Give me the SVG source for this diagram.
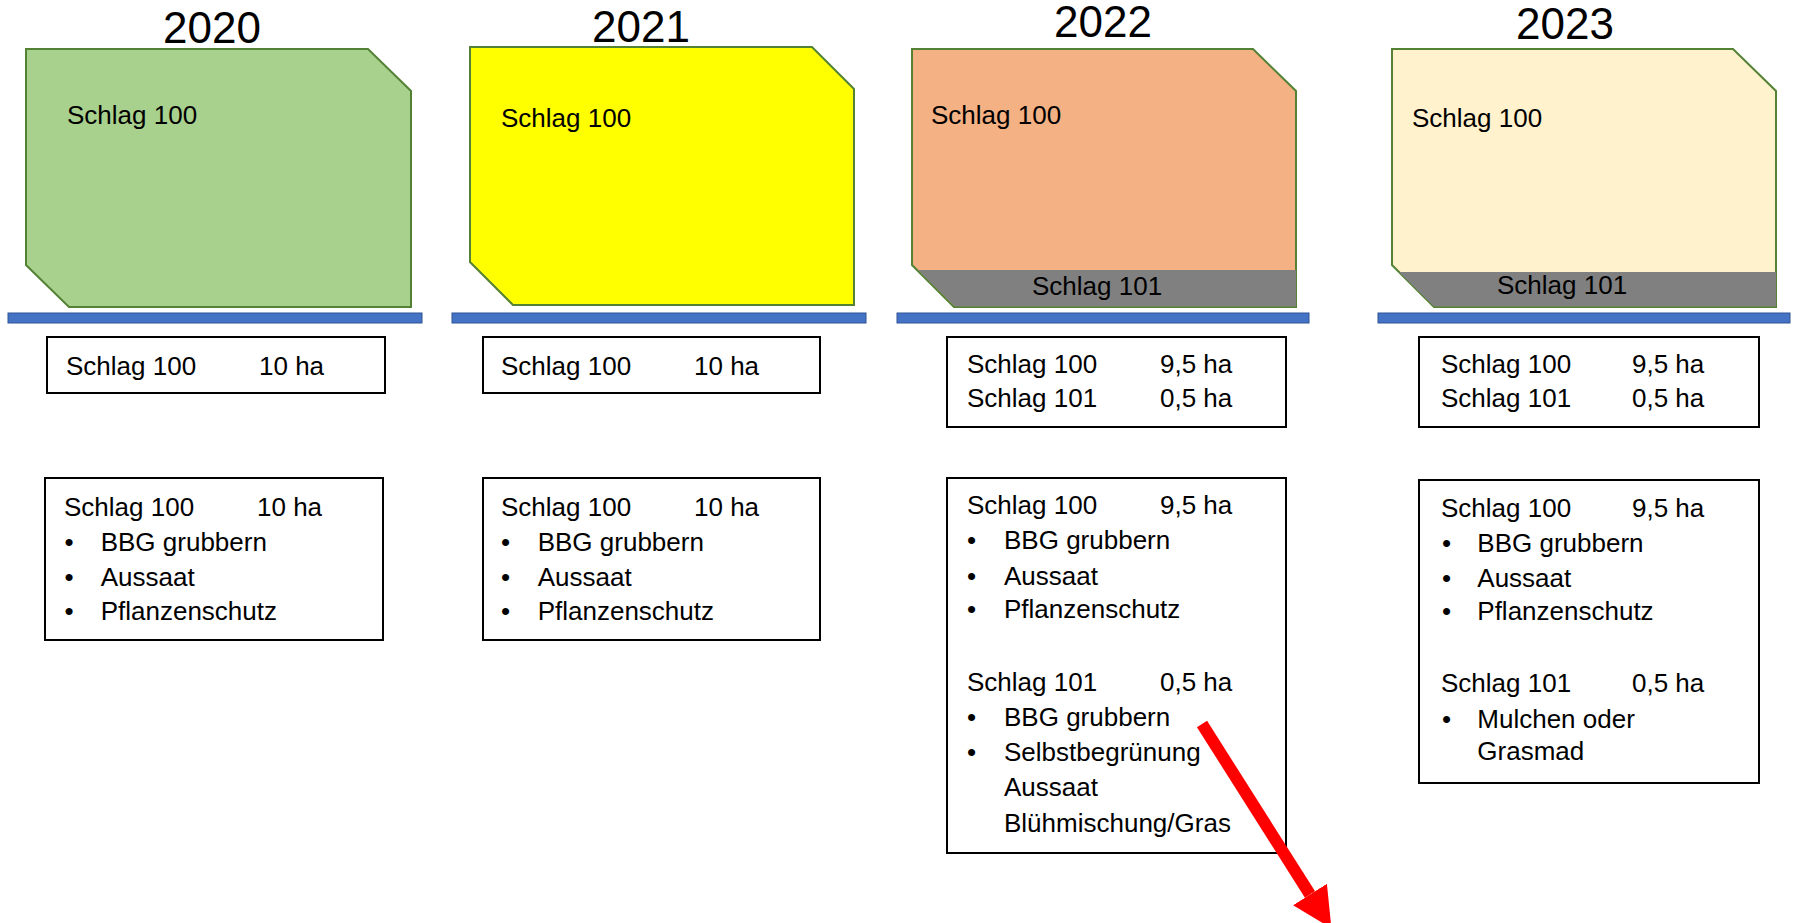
<svg xmlns="http://www.w3.org/2000/svg" width="1796" height="923" viewBox="0 0 1796 923">
<defs>
<style>
text{font-family:"Liberation Sans",Arial,sans-serif;fill:#000}
.yr{font-size:44px;text-anchor:middle}
.t{font-size:26px}
.field{stroke:#548235;stroke-width:2;stroke-linejoin:miter}
.strip{fill:#808080;stroke:none}
.bar{fill:#4472C4;stroke:#2F5597;stroke-width:1}
.box{fill:#fff;stroke:#000;stroke-width:2}
</style>
<marker id="ah" markerUnits="userSpaceOnUse" viewBox="0 0 40 40" refX="0" refY="20" markerWidth="40" markerHeight="40" orient="auto">
<path d="M0,0 L40,20 L0,40 z" fill="#FF0000"/>
</marker>
</defs>
<rect width="1796" height="923" fill="#fff"/>

<g id="y2020">
<text class="yr" x="212" y="43">2020</text>
<polygon class="field" fill="#A9D18E" points="26,49 368,49 411,91 411,307 69,307 26,265"/>
<text class="t" x="67" y="124">Schlag 100</text>
<rect class="bar" x="8" y="313" width="414" height="10"/>
</g>
<g id="y2020-area">
<rect class="box" x="47" y="337" width="338" height="56"/>
<text class="t" x="66" y="375">Schlag 100</text>
<text class="t" x="259" y="375">10 ha</text>
</g>
<g id="y2020-tasks">
<rect class="box" x="45" y="478" width="338" height="162"/>
<text class="t" x="64" y="515.5">Schlag 100</text>
<text class="t" x="257" y="515.5">10 ha</text>
<text class="t" x="64.5" y="550.5">•</text><text class="t" x="100.7" y="550.5">BBG grubbern</text>
<text class="t" x="64.5" y="585.5">•</text><text class="t" x="100.7" y="585.5">Aussaat</text>
<text class="t" x="64.5" y="620">•</text><text class="t" x="100.7" y="620">Pflanzenschutz</text>
</g>

<g id="y2021">
<text class="yr" x="641" y="42">2021</text>
<polygon class="field" fill="#FFFF00" points="470,47 812,47 854,89 854,305 513,305 470,262"/>
<text class="t" x="501" y="126.5">Schlag 100</text>
<rect class="bar" x="452" y="313" width="414" height="10"/>
</g>
<g id="y2021-area">
<rect class="box" x="483" y="337" width="337" height="56"/>
<text class="t" x="501" y="375">Schlag 100</text>
<text class="t" x="694" y="375">10 ha</text>
</g>
<g id="y2021-tasks">
<rect class="box" x="483" y="478" width="337" height="162"/>
<text class="t" x="501" y="515.5">Schlag 100</text>
<text class="t" x="694" y="515.5">10 ha</text>
<text class="t" x="501" y="550.5">•</text><text class="t" x="537.7" y="550.5">BBG grubbern</text>
<text class="t" x="501" y="585.5">•</text><text class="t" x="537.7" y="585.5">Aussaat</text>
<text class="t" x="501" y="620">•</text><text class="t" x="537.7" y="620">Pflanzenschutz</text>
</g>

<g id="y2022">
<text class="yr" x="1103" y="37">2022</text>
<polygon class="field" fill="#F4B183" points="912,49 1253,49 1296,91 1296,307 954,307 912,265"/>
<polygon class="strip" points="918,270 1296,270 1296,306.5 955,306.5"/>
<text class="t" x="931" y="124">Schlag 100</text>
<text class="t" x="1032" y="295">Schlag 101</text>
<rect class="bar" x="897" y="313" width="412" height="10"/>
</g>
<g id="y2022-area">
<rect class="box" x="947" y="337" width="339" height="90"/>
<text class="t" x="967" y="373.3">Schlag 100</text>
<text class="t" x="1160" y="373.3">9,5 ha</text>
<text class="t" x="967" y="407.3">Schlag 101</text>
<text class="t" x="1160" y="407.3">0,5 ha</text>
</g>
<g id="y2022-tasks">
<rect class="box" x="947" y="478" width="339" height="375"/>
<text class="t" x="967" y="514.3">Schlag 100</text>
<text class="t" x="1160" y="514.3">9,5 ha</text>
<text class="t" x="967" y="549.3">•</text><text class="t" x="1004" y="549.3">BBG grubbern</text>
<text class="t" x="967" y="584.5">•</text><text class="t" x="1004" y="584.5">Aussaat</text>
<text class="t" x="967" y="618.3">•</text><text class="t" x="1004" y="618.3">Pflanzenschutz</text>
<text class="t" x="967" y="690.7">Schlag 101</text>
<text class="t" x="1160" y="690.7">0,5 ha</text>
<text class="t" x="967" y="726.3">•</text><text class="t" x="1004" y="726.3">BBG grubbern</text>
<text class="t" x="967" y="760.5">•</text><text class="t" x="1004" y="760.5">Selbstbegrünung</text>
<text class="t" x="1004" y="796.3">Aussaat</text>
<text class="t" x="1004" y="831.5">Blühmischung/Gras</text>
</g>

<g id="y2023">
<text class="yr" x="1565" y="39">2023</text>
<polygon class="field" fill="#FFF2CC" points="1392,49 1733,49 1776,91 1776,307 1434,307 1392,265"/>
<polygon class="strip" points="1399,272 1776,272 1776,306.5 1434,306.5"/>
<text class="t" x="1412" y="126.5">Schlag 100</text>
<text class="t" x="1497" y="294">Schlag 101</text>
<rect class="bar" x="1378" y="313" width="412" height="10"/>
</g>
<g id="y2023-area">
<rect class="box" x="1419" y="337" width="340" height="90"/>
<text class="t" x="1441" y="373.3">Schlag 100</text>
<text class="t" x="1632" y="373.3">9,5 ha</text>
<text class="t" x="1441" y="407.3">Schlag 101</text>
<text class="t" x="1632" y="407.3">0,5 ha</text>
</g>
<g id="y2023-tasks">
<rect class="box" x="1419" y="480" width="340" height="303"/>
<text class="t" x="1441" y="516.7">Schlag 100</text>
<text class="t" x="1632" y="516.7">9,5 ha</text>
<text class="t" x="1442" y="551.7">•</text><text class="t" x="1477.3" y="551.7">BBG grubbern</text>
<text class="t" x="1442" y="587.3">•</text><text class="t" x="1477.3" y="587.3">Aussaat</text>
<text class="t" x="1442" y="620">•</text><text class="t" x="1477.3" y="620">Pflanzenschutz</text>
<text class="t" x="1441" y="691.7">Schlag 101</text>
<text class="t" x="1632" y="691.7">0,5 ha</text>
<text class="t" x="1442" y="728.3">•</text><text class="t" x="1477.3" y="728.3">Mulchen oder</text>
<text class="t" x="1477.3" y="760">Grasmad</text>
</g>

<g id="connectors">
<line x1="1202" y1="724" x2="1310" y2="894.5" stroke="#FF0000" stroke-width="12" marker-end="url(#ah)"/>
</g>
</svg>
